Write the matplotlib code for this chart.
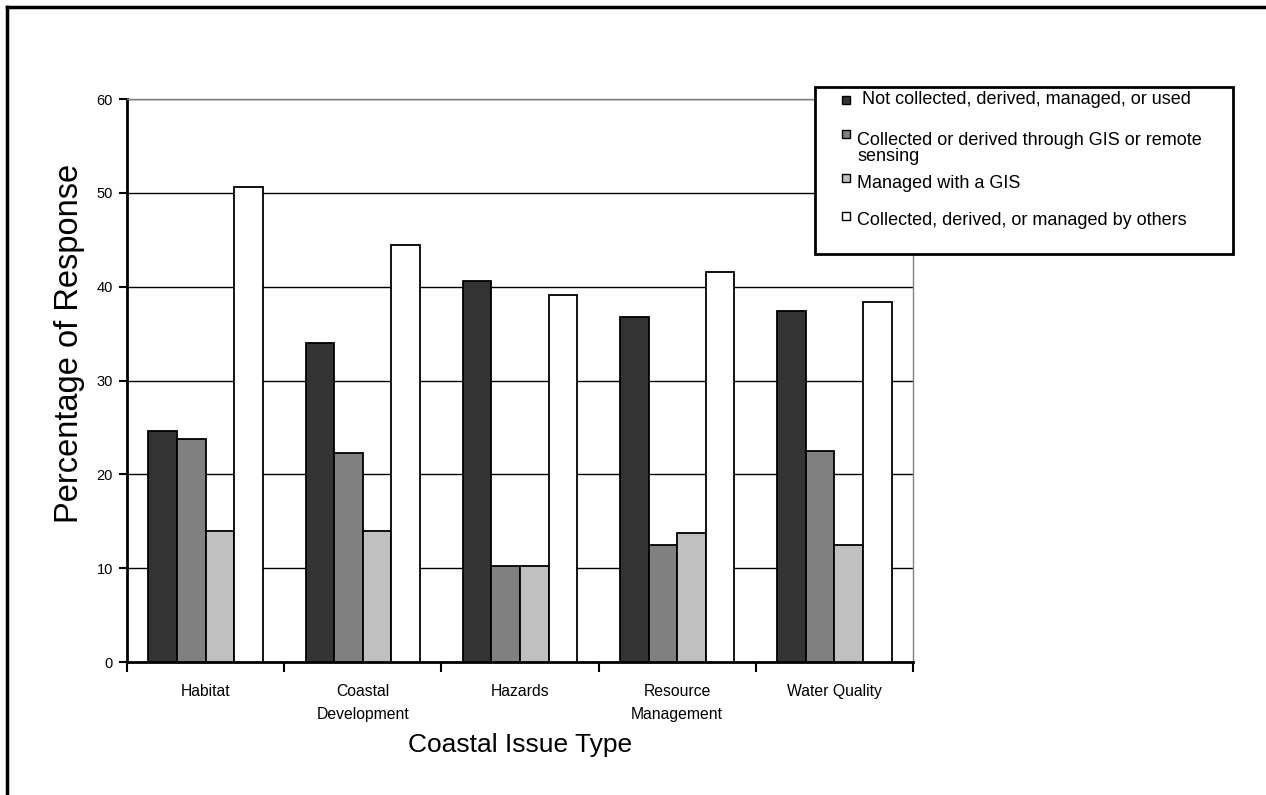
import numpy as np
import matplotlib
matplotlib.use("Agg")
import matplotlib.pyplot as plt
from matplotlib.patches import Rectangle
from matplotlib.lines import Line2D

plt.rcParams['font.family'] = ['Liberation Sans', 'DejaVu Sans']

# data
categories = ['Habitat', 'Coastal\nDevelopment', 'Hazards', 'Resource\nManagement', 'Water Quality']
series_names = ['Not collected, derived, managed, or used',
                'Collected or derived through GIS or remote\nsensing',
                'Managed with a GIS',
                'Collected, derived, or managed by others']
not_collected = [24.6, 34.0, 40.6, 36.8, 37.4]
gis_remote = [23.8, 22.3, 10.2, 12.5, 22.5]
managed_gis = [14.0, 14.0, 10.2, 13.8, 12.5]
by_others = [50.6, 44.4, 39.1, 41.6, 38.4]
colors = ['#333333', '#808080', '#c0c0c0', '#ffffff']

series = [not_collected, gis_remote, managed_gis, by_others]

W, H = 1266, 795
fig = plt.figure(figsize=(W / 100, H / 100), dpi=100)
ax = fig.add_axes([127 / W, 1 - 662 / H, (913 - 127) / W, (662 - 99) / H])

x = np.arange(len(categories))
bw = 1 / 5.5
for i, (vals, c) in enumerate(zip(series, colors)):
    ax.bar(x + (i - 1.5) * bw, vals, bw, color=c, edgecolor='black', linewidth=1.3, zorder=3)

ax.set_xlim(-0.5, len(categories) - 0.5)
ax.set_ylim(0, 60)
ax.set_yticks(range(0, 61, 10))
ax.set_xticks(np.arange(len(categories) + 1) - 0.5)
ax.set_xticklabels([])
ax.set_xticks(x, minor=True)
ax.set_xticklabels(categories, minor=True, fontsize=11.3, linespacing=1.65, va='top')
ax.tick_params(axis='x', which='minor', length=0, pad=16)
ax.tick_params(axis='x', which='major', direction='out', length=7, width=1.5)
ax.tick_params(axis='y', direction='out', length=6, width=1.5, labelsize=10.5, pad=4)

ax.yaxis.grid(True, color='black', linewidth=1, zorder=0)
ax.set_axisbelow(True)
for s in ['left', 'bottom']:
    ax.spines[s].set_linewidth(2)
    ax.spines[s].set_color('black')
for s in ['top', 'right']:
    ax.spines[s].set_linewidth(1)
    ax.spines[s].set_color('#808080')

ax.set_ylabel('Percentage of Response', fontsize=23.5)
ax.yaxis.set_label_coords(-0.0735, 0.565)
ax.set_xlabel('Coastal Issue Type', fontsize=19)
ax.xaxis.set_label_coords(0.5, -(745 - 662) / 563)
ax.xaxis.label.set_va('center')
ax.yaxis.label.set_va('center')

# legend box drawn by hand to match the original layout
def fx(px):
    return px / W

def fy(py):
    return 1 - py / H

fig.patches.append(Rectangle((fx(815), fy(254)), fx(1233) - fx(815), fy(87) - fy(254),
                             transform=fig.transFigure, facecolor='white',
                             edgecolor='black', linewidth=2, zorder=5))
marker_y = [100, 134, 178, 216]
text_y = [100, 141, 184, 221]
text_x = [862, 857, 857, 857]
for name, c, my, ty, tx in zip(series_names, colors, marker_y, text_y, text_x):
    fig.patches.append(Rectangle((fx(842), fy(my + 4)), fx(8), 8 / H,
                                 transform=fig.transFigure, facecolor=c,
                                 edgecolor='black', linewidth=1, zorder=6))
    fig.text(fx(tx), fy(ty - 9), name, fontsize=13, va='top', ha='left',
             linespacing=0.95, zorder=7)

# outer frame (top and left edges only)
fig.lines.append(Line2D([fx(7), 1], [fy(7), fy(7)], transform=fig.transFigure,
                        color='black', linewidth=2.5))
fig.lines.append(Line2D([fx(7), fx(7)], [fy(7), 0], transform=fig.transFigure,
                        color='black', linewidth=2.5))

fig.savefig('out.png', dpi=100, facecolor='white')
